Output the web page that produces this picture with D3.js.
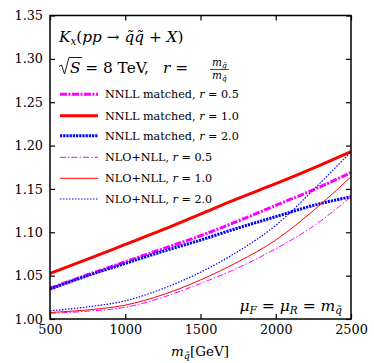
<!DOCTYPE html>
<html><head><meta charset="utf-8">
<script src="https://cdn.jsdelivr.net/npm/d3@7"></script>
<style>
body{margin:0;background:#fff;}
svg text{font-family:"DejaVu Serif",serif;fill:#000;}
</style></head>
<body><svg id="c" width="374" height="363"></svg>
<script>
// ---- data ----
const masses   = [500, 750, 1000, 1250, 1500, 1750, 2000, 2250, 2500];
const nnll05   = [1.0355, 1.051, 1.066, 1.081, 1.096, 1.113, 1.131, 1.149, 1.169];
const nnll10   = [1.0525, 1.069, 1.086, 1.103, 1.121, 1.139, 1.156, 1.174, 1.193];
const nnll20   = [1.0345, 1.050, 1.064, 1.078, 1.091, 1.105, 1.118, 1.131, 1.141];
const nlo05    = [1.0065, 1.009, 1.0135, 1.025, 1.041, 1.059, 1.081, 1.107, 1.141];
const nlo10    = [1.0075, 1.0105, 1.016, 1.028, 1.045, 1.066, 1.091, 1.125, 1.164];
const nlo20    = [1.0095, 1.014, 1.021, 1.035, 1.054, 1.078, 1.108, 1.149, 1.193];
const xTicks   = [500, 1000, 1500, 2000, 2500];
const yTicks   = [1.00, 1.05, 1.10, 1.15, 1.20, 1.25, 1.30, 1.35];
const seriesNames = ["NNLL matched", "NNLL matched", "NNLL matched", "NLO+NLL", "NLO+NLL", "NLO+NLL"];
const rValues  = ["0.5", "1.0", "2.0", "0.5", "1.0", "2.0"];

const seriesData = [nnll05, nnll10, nnll20, nlo05, nlo10, nlo20];
const styles = [
  {color:"#ff00ff", w:3,   dash:"7,1.5,2,1.5"},
  {color:"#ff0000", w:3,   dash:null},
  {color:"#0000ff", w:3,   dash:"2.2,1"},
  {color:"#ff00ff", w:1,   dash:"6,2,1.5,2"},
  {color:"#ff0000", w:1,   dash:null},
  {color:"#0000ff", w:1.2, dash:"1.5,1.5"}
];

const svg = d3.select("#c");
const L=50, R=351, T=15.5, B=319;
const x = d3.scaleLinear().domain([500,2500]).range([L,R]);
const y = d3.scaleLinear().domain([1.0,1.35]).range([B,T]);

svg.append("clipPath").attr("id","pc").append("rect")
  .attr("x",L).attr("y",T).attr("width",R-L).attr("height",B-T);

// lines
const line = d3.line().x(d=>x(d[0])).y(d=>y(d[1])).curve(d3.curveMonotoneX);
const g = svg.append("g").attr("clip-path","url(#pc)");
seriesData.forEach((vals,i)=>{
  const st = styles[i];
  g.append("path").datum(masses.map((m,j)=>[m,vals[j]]))
    .attr("d",line).attr("fill","none")
    .attr("stroke",st.color).attr("stroke-width",st.w)
    .attr("stroke-dasharray",st.dash);
});

// axes
const TF = "DejaVu Serif, serif";
const fmtY = d3.format(".2f");
const axL = svg.append("g").attr("transform",`translate(${L},0)`)
  .call(d3.axisLeft(y).tickValues(yTicks).tickFormat(fmtY).tickSize(-5).tickPadding(7));
const axB = svg.append("g").attr("transform",`translate(0,${B})`)
  .call(d3.axisBottom(x).tickValues(xTicks).tickFormat(d3.format("d")).tickSize(-5).tickPadding(6));
const axT = svg.append("g").attr("transform",`translate(0,${T})`)
  .call(d3.axisTop(x).tickValues(xTicks).tickFormat("").tickSize(-5));
const axR = svg.append("g").attr("transform",`translate(${R},0)`)
  .call(d3.axisRight(y).tickValues(yTicks).tickFormat("").tickSize(-5));
[axL,axB,axT,axR].forEach(a=>{
  a.attr("font-family",TF);
  a.select(".domain").remove();
  a.selectAll(".tick line").attr("stroke","#000").attr("stroke-width",1.2);
  a.selectAll(".tick text").style("font-family",TF).style("font-size","12.8px").attr("fill","#000");
});
svg.append("rect").attr("x",L).attr("y",T).attr("width",R-L).attr("height",B-T)
  .attr("fill","none").attr("stroke","#000").attr("stroke-width",1.5);

// title line 1: K_x(pp -> q~q~ + X)
const t1 = svg.append("text").attr("x",59).attr("y",42).style("font-size","15.3px");
t1.append("tspan").style("font-style","italic").text("K");
t1.append("tspan").style("font-style","italic").style("font-size","10.5px").attr("dy",3).text("x");
t1.append("tspan").attr("dy",-3).text("(");
t1.append("tspan").style("font-style","italic").text("pp");
t1.append("tspan").text(" \u2192 ");
t1.append("tspan").style("font-style","italic").text("q\u0303q\u0303");
t1.append("tspan").text(" + ");
t1.append("tspan").style("font-style","italic").text("X");
t1.append("tspan").text(")");

// line 2: sqrt(S) = 8 TeV,   r = m_g~/m_q~
svg.append("path").attr("d","M59,66.5 L61.5,65 L64.5,74 L69,57.5 L82,57.5")
  .attr("fill","none").attr("stroke","#000").attr("stroke-width",0.9);
const t2 = svg.append("text").attr("x",70).attr("y",73).style("font-size","15.3px");
t2.append("tspan").style("font-style","italic").text("S");
t2.append("tspan").text(" = 8 TeV,");
const t3 = svg.append("text").attr("x",163).attr("y",73).style("font-size","15.3px");
t3.append("tspan").style("font-style","italic").text("r");
t3.append("tspan").text(" = ");
// fraction
const fn = svg.append("text").attr("x",219.5).attr("y",66).attr("text-anchor","middle").style("font-size","10.5px");
fn.append("tspan").style("font-style","italic").text("m");
fn.append("tspan").style("font-style","italic").style("font-size","7.5px").attr("dy",2).text("g\u0303");
svg.append("line").attr("x1",210).attr("x2",229).attr("y1",69.5).attr("y2",69.5)
  .attr("stroke","#000").attr("stroke-width",0.7);
const fd = svg.append("text").attr("x",219.5).attr("y",78.5).attr("text-anchor","middle").style("font-size","10.5px");
fd.append("tspan").style("font-style","italic").text("m");
fd.append("tspan").style("font-style","italic").style("font-size","7.5px").attr("dy",2).text("q\u0303");

// legend
const rowY = [94.3, 115.7, 135.7, 157.3, 178.3, 199];
styles.forEach((st,i)=>{
  const yy = rowY[i];
  svg.append("line").attr("x1",60).attr("x2",98).attr("y1",yy).attr("y2",yy)
    .attr("stroke",st.color).attr("stroke-width",st.w).attr("stroke-dasharray",st.dash);
  const t = svg.append("text").attr("x",105).attr("y",yy+4).style("font-size","11.2px");
  t.append("tspan").text(seriesNames[i] + ", ");
  t.append("tspan").style("font-style","italic").text("r");
  t.append("tspan").text(" = " + rValues[i]);
});

// scale label bottom right
const mu = svg.append("text").attr("x",342).attr("y",311).attr("text-anchor","end").style("font-size","15.5px");
mu.append("tspan").style("font-style","italic").text("\u03BC");
mu.append("tspan").style("font-style","italic").style("font-size","10.5px").attr("dy",3).text("F");
mu.append("tspan").attr("dy",-3).text(" = ");
mu.append("tspan").style("font-style","italic").text("\u03BC");
mu.append("tspan").style("font-style","italic").style("font-size","10.5px").attr("dy",3).text("R");
mu.append("tspan").attr("dy",-3).text(" = ");
mu.append("tspan").style("font-style","italic").text("m");
mu.append("tspan").style("font-style","italic").style("font-size","10.5px").attr("dy",3).text("q\u0303");

// x axis label
const xl = svg.append("text").attr("x",200).attr("y",356).attr("text-anchor","middle").style("font-size","13.5px");
xl.append("tspan").style("font-style","italic").text("m");
xl.append("tspan").style("font-style","italic").style("font-size","9.5px").attr("dy",3).text("q\u0303");
xl.append("tspan").attr("dy",-3).text("[GeV]");
</script></body></html>
